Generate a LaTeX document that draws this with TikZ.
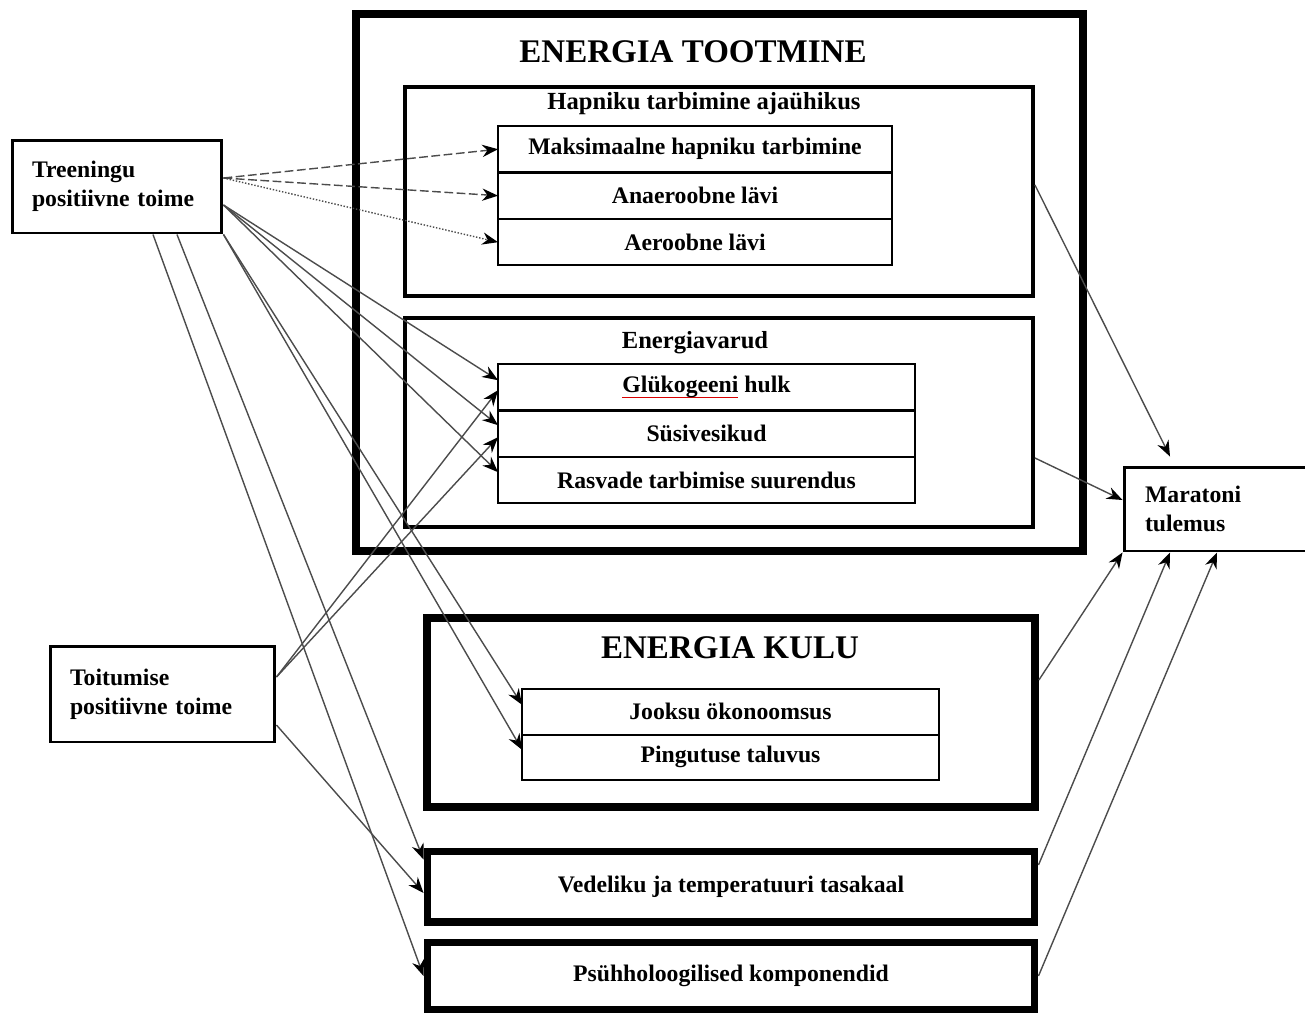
\documentclass[tikz,border=0pt]{standalone}
\usepackage{fontspec}
\setmainfont{Liberation Serif}
\usetikzlibrary{positioning,arrows.meta}
\newcommand{\spellmark}[1]{\setbox0\hbox{#1}\rlap{\color{red!85!black}\rule[-3pt]{\wd0}{0.8pt}}#1}

\begin{document}
\begin{tikzpicture}[x=0.02cm,y=-0.02cm,
  bigbox/.style={draw, line width=4.5pt, inner sep=0pt},
  midbox/.style={draw, line width=2.3pt, inner sep=0pt},
  rowbox/.style={draw, line width=1.2pt, outer sep=0pt, inner sep=0pt,
    minimum width=#1, minimum height=0.93cm,
    font=\fontsize{13.5}{16}\selectfont\bfseries},
  sidebox/.style={draw, line width=1.7pt, align=left, inner xsep=0.4cm,
    font=\fontsize{13.5}{16.5}\selectfont\bfseries},
  title/.style={font=\fontsize{18.8}{21}\selectfont\bfseries},
  subtitle/.style={font=\fontsize{14}{16}\selectfont\bfseries},
  link/.style={draw=black!70, line width=0.8pt,
    -{Stealth[length=9pt,width=7pt,color=black]}},
  longdash/.style={dash pattern=on 5pt off 2pt},
]
\useasboundingbox (0,0) rectangle (1305,1012);

\node[sidebox, minimum width=4.2cm, minimum height=1.86cm, text width=3.4cm] (trn) at (117,186.5)
  {Treeningu\\positiivne toime};
\node[sidebox, minimum width=4.5cm, minimum height=1.92cm, text width=3.7cm] (ttm) at (162.5,694)
  {Toitumise\\positiivne toime};

\node[bigbox, minimum width=14.54cm, minimum height=10.74cm] (prod) at (719.5,282.5) {};
\node[title] (prodt) at (693,52) {ENERGIA TOOTMINE};

\node[midbox, minimum width=12.56cm, minimum height=4.18cm] (hap) at (719,191.5) {};
\node[subtitle] (hapt) at (704,104) {Hapniku tarbimine ajaühikus};
\node[rowbox=7.88cm] (vmax) at (695,149.2) {Maksimaalne hapniku tarbimine};
\node[rowbox=7.88cm, below=0pt of vmax] (anp) {Anaeroobne lävi};
\node[rowbox=7.88cm, below=0pt of anp] (aep) {Aeroobne lävi};

\node[midbox, minimum width=12.56cm, minimum height=4.18cm] (env) at (719,422.5) {};
\node[subtitle] (envt) at (695,343) {Energiavarud};
\node[rowbox=8.34cm] (glk) at (706.5,387.2) {\spellmark{Glükogeeni} hulk};
\node[rowbox=8.34cm, below=0pt of glk] (ssv) {Süsivesikud};
\node[rowbox=8.34cm, below=0pt of ssv] (rsv) {Rasvade tarbimise suurendus};

\node[bigbox, minimum width=12.16cm, minimum height=3.78cm] (kulu) at (731,712.5) {};
\node[title] (kulut) at (730,648) {ENERGIA KULU};
\node[rowbox=8.34cm, minimum height=0.91cm] (jks) at (730.5,711.8) {Jooksu ökonoomsus};
\node[rowbox=8.34cm, minimum height=0.91cm, below=0pt of jks] (png) {Pingutuse taluvus};

\node[bigbox, minimum width=12.16cm, minimum height=1.42cm, line width=4pt,
  font=\fontsize{13.5}{16}\selectfont\bfseries] (vdl) at (731,886.5)
  {Vedeliku ja temperatuuri tasakaal};
\node[bigbox, minimum width=12.16cm, minimum height=1.36cm, line width=4pt,
  font=\fontsize{13.5}{16}\selectfont\bfseries] (psh) at (731,976)
  {Psühholoogilised komponendid};

\node[sidebox, minimum width=3.72cm, minimum height=1.68cm, text width=2.88cm,
  inner xsep=0.42cm] (mrt) at (1217,509) {Maratoni\\tulemus};

\draw[link, longdash] ([yshift=0.17cm]trn.east) -- (vmax.west);
\draw[link, longdash] ([yshift=0.17cm]trn.east) -- (anp.west);
\draw[link, densely dotted] ([yshift=0.17cm]trn.east) -- (aep.west);
\draw[link] ([yshift=-0.37cm]trn.east) -- ([yshift=0.14cm]glk.west);
\draw[link] ([yshift=-0.37cm]trn.east) -- ([yshift=0.17cm]ssv.west);
\draw[link] ([yshift=-0.37cm]trn.east) -- ([yshift=0.16cm]rsv.west);
\draw[link] (trn.south east) -- ([yshift=0.14cm]jks.west);
\draw[link] (trn.south east) -- ([yshift=0.15cm]png.west);
\draw[link] ([xshift=1.2cm]trn.south) -- ([yshift=-0.24cm]vdl.north west);
\draw[link] ([xshift=0.72cm]trn.south) -- (psh.west);

\draw[link] ([yshift=0.34cm]ttm.east) -- ([yshift=-0.06cm]glk.west);
\draw[link] ([yshift=0.34cm]ttm.east) -- ([yshift=-0.07cm]ssv.west);
\draw[link] ([yshift=-0.62cm]ttm.east) -- ([yshift=-0.13cm]vdl.west);

\draw[link] ([yshift=0.13cm]hap.east) -- ([xshift=-0.94cm,yshift=0.18cm]mrt.north);
\draw[link] ([yshift=-0.71cm]env.east) -- ([yshift=0.18cm]mrt.west);
\draw[link] ([yshift=0.65cm]kulu.east) -- (mrt.south west);
\draw[link] ([yshift=0.43cm]vdl.east) -- ([xshift=-0.94cm]mrt.south);
\draw[link] (psh.east) -- (mrt.south);
\end{tikzpicture}
\end{document}
